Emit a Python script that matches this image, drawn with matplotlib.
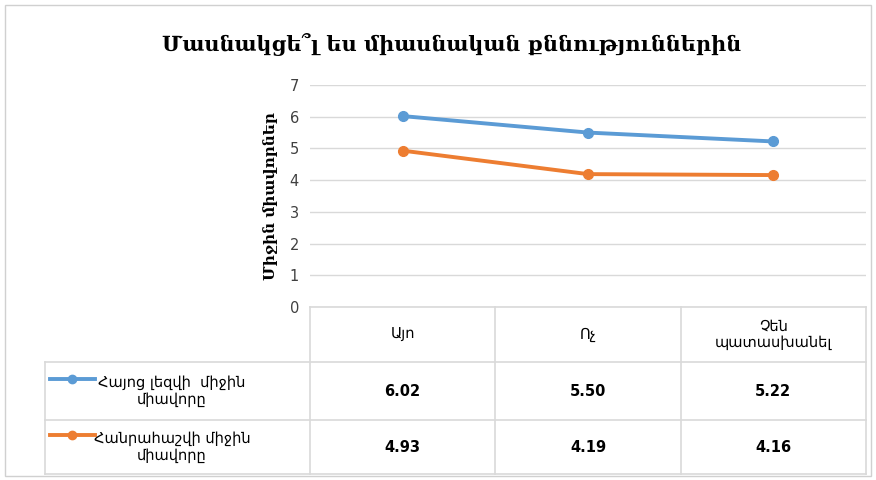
import matplotlib
matplotlib.use("Agg")
import matplotlib.pyplot as plt
from matplotlib.lines import Line2D
from matplotlib.patches import Rectangle

categories = ["Այո", "Ոչ", "Չեն\nպատասխանել"]
series_names = ["Հայոց լեզվի  միջին\nմիավորը", "Հանրահաշվի միջին\nմիավորը"]
armenian = [6.02, 5.50, 5.22]
algebra = [4.93, 4.19, 4.16]
series_values = [armenian, algebra]
colors = ["#5B9BD5", "#ED7D31"]
title = "Մասնակցե՞լ ես միասնական քննություններին"
ylabel = "Միջին միավորներ"
yticks = [0, 1, 2, 3, 4, 5, 6, 7]

W, H = 876, 480
fig = plt.figure(figsize=(W / 100, H / 100), dpi=100)

def fx(px):
    return px / W

def fy(py):
    return 1 - py / H

grid_c = "#D9D9D9"

# outer border
fig.patches.append(Rectangle((fx(5), fy(476)), fx(866), 471 / H, transform=fig.transFigure,
                             fill=False, edgecolor="#D0D0D0", lw=1))

left, right, top, bottom = 310, 866, 85, 307
ax = fig.add_axes([fx(left), fy(bottom), fx(right - left), (bottom - top) / H])
n = len(categories)
x = list(range(n))
ax.set_xlim(-0.5, n - 0.5)
ax.set_ylim(0, 7)
ax.set_yticks(yticks)
ax.set_yticklabels([str(t) for t in yticks], fontsize=10.5, color="#404040")
ax.set_xticks([])
for s in ax.spines.values():
    s.set_visible(False)
ax.tick_params(axis="y", length=0, pad=8)
ax.grid(axis="y", color=grid_c, lw=1)
ax.set_axisbelow(True)
for vals, c in zip(series_values, colors):
    ax.plot(x, vals, color=c, lw=2.8, marker="o", markersize=7, zorder=3)

ax.set_ylabel(ylabel, fontsize=11, fontweight="bold", family="DejaVu Serif", labelpad=8)

fig.text(fx(452), fy(45), title, ha="center", va="center", fontsize=15,
         fontweight="bold", family="DejaVu Serif")

# data table
row_y = [307, 362, 420, 474]
col_x = [left + i * (right - left) / n for i in range(n + 1)]
tab_left = 45

def hline(x0, x1, y):
    fig.add_artist(Line2D([fx(x0), fx(x1)], [fy(y), fy(y)], color=grid_c, lw=1.2))

def vline(x, y0, y1):
    fig.add_artist(Line2D([fx(x), fx(x)], [fy(y0), fy(y1)], color=grid_c, lw=1.2))

hline(left, right, row_y[0])
for y in row_y[1:]:
    hline(tab_left, right, y)
for xx in col_x:
    vline(xx, row_y[0], row_y[-1])
vline(tab_left, row_y[1], row_y[-1])

for i, cat in enumerate(categories):
    cx = (col_x[i] + col_x[i + 1]) / 2
    cy = (row_y[0] + row_y[1]) / 2
    fig.text(fx(cx), fy(cy), cat, ha="center", va="center", fontsize=10.5,
             linespacing=1.1, color="black")

for r, (name, vals, c) in enumerate(zip(series_names, series_values, colors)):
    cy = (row_y[r + 1] + row_y[r + 2]) / 2
    ly = cy - 12
    fig.add_artist(Line2D([fx(50), fx(95)], [fy(ly), fy(ly)], color=c, lw=2.8))
    fig.add_artist(Line2D([fx(72)], [fy(ly)], color=c, marker="o", markersize=6))
    fig.text(fx(172), fy(cy), name, ha="center", va="center", fontsize=10.5,
             linespacing=1.15)
    for i, v in enumerate(vals):
        cx = (col_x[i] + col_x[i + 1]) / 2
        fig.text(fx(cx), fy(cy), f"{v:.2f}", ha="center", va="center", fontsize=10.5,
                 fontweight="bold")

fig.savefig("out.png", dpi=100)
